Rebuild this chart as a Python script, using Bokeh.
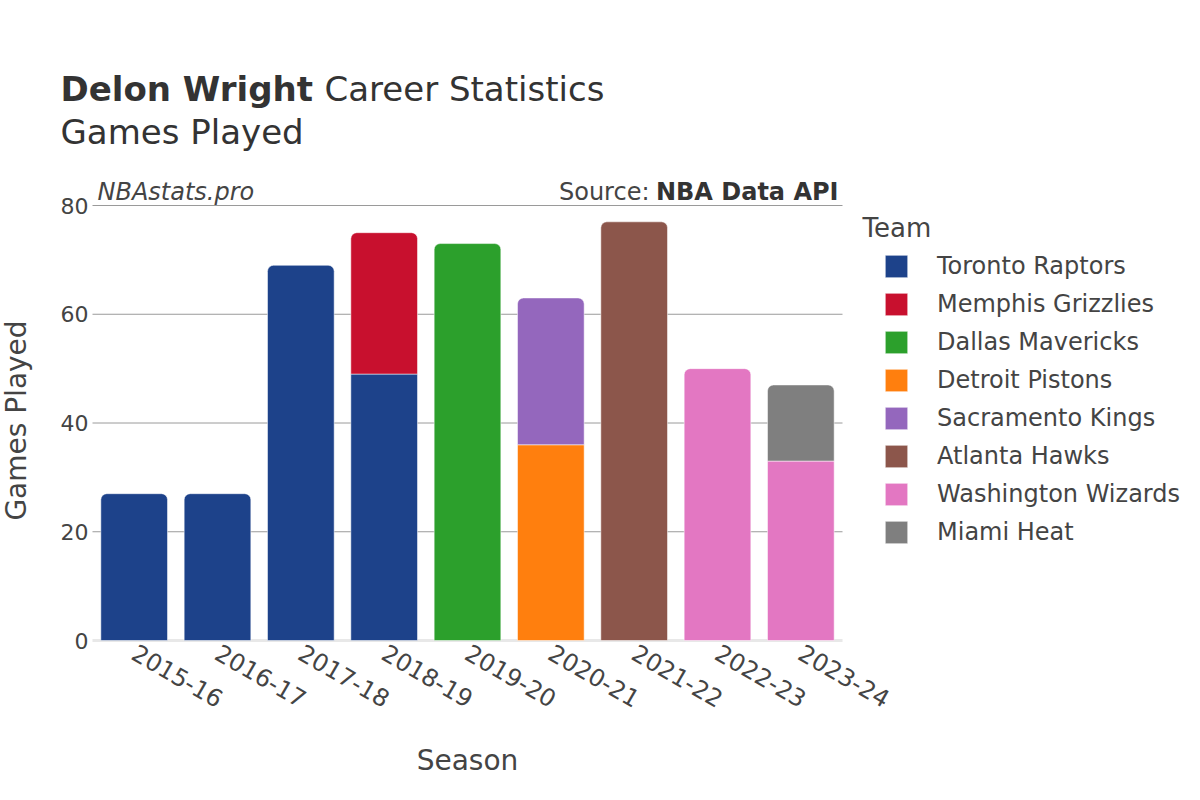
import math
from bokeh.plotting import figure
from bokeh.models import (ColumnDataSource, Range1d, Label, Legend, LegendItem, FixedTicker)
from bokeh.embed import file_html
from bokeh.resources import INLINE

# ---------------- data ----------------
seasons = ["2015-16", "2016-17", "2017-18", "2018-19", "2019-20",
           "2020-21", "2021-22", "2022-23", "2023-24"]
teams = ["Toronto Raptors", "Memphis Grizzlies", "Dallas Mavericks", "Detroit Pistons",
         "Sacramento Kings", "Atlanta Hawks", "Washington Wizards", "Miami Heat"]
team_colors = ["#1d428a", "#c8102e", "#2ca02c", "#ff7f0e",
               "#9467bd", "#8c564b", "#e377c2", "#7f7f7f"]
toronto = [27, 27, 69, 49, 0, 0, 0, 0, 0]
memphis = [0, 0, 0, 26, 0, 0, 0, 0, 0]
dallas = [0, 0, 0, 0, 73, 0, 0, 0, 0]
detroit = [0, 0, 0, 0, 0, 36, 0, 0, 0]
sacramento = [0, 0, 0, 0, 0, 27, 0, 0, 0]
atlanta = [0, 0, 0, 0, 0, 0, 77, 0, 0]
washington = [0, 0, 0, 0, 0, 0, 0, 50, 33]
miami = [0, 0, 0, 0, 0, 0, 0, 0, 14]
games = [toronto, memphis, dallas, detroit, sacramento, atlanta, washington, miami]
y_ticks = [0, 20, 40, 60, 80]

FONT = "DejaVu Sans"
TXT = "#444444"
DARK = "#333333"

# ---------------- geometry ----------------
W, H = 1184, 784
BAR_L, BAR_R = 92, 842   # horizontal pixel span of the category band
ZERO_Y = 640             # pixel row of y = 0
PX_PER_UNIT = 5.4375     # pixels per game
n = len(seasons)
px_per_cat = (BAR_R - BAR_L) / n
x_start = -0.5 - BAR_L / px_per_cat
x_end = x_start + W / px_per_cat
y_start = -(H - ZERO_Y) / PX_PER_UNIT
y_end = ZERO_Y / PX_PER_UNIT

# the frame covers the whole canvas; axes are drawn at fixed locations inside it
p = figure(x_range=Range1d(x_start, x_end), y_range=Range1d(y_start, y_end),
           width=W, height=H, output_backend="svg", toolbar_location=None,
           min_border=0, title=None)
p.outline_line_color = None
p.xgrid.grid_line_color = None
p.ygrid.grid_line_color = None

p.yaxis.ticker = FixedTicker(ticks=y_ticks)
p.yaxis.fixed_location = -0.5 - 4 / px_per_cat
p.yaxis.axis_line_color = None
p.yaxis.major_tick_line_color = None
p.yaxis.minor_tick_line_color = None
p.yaxis.major_tick_out = 0
p.yaxis.major_tick_in = 0
p.yaxis.minor_tick_out = 0
p.yaxis.major_label_text_font = FONT
p.yaxis.major_label_text_font_size = "22px"
p.yaxis.major_label_text_color = TXT
p.yaxis.major_label_standoff = 0

p.xaxis.ticker = FixedTicker(ticks=list(range(n)))
p.xaxis.fixed_location = 0
p.xaxis.major_label_overrides = {i: s for i, s in enumerate(seasons)}
p.xaxis.axis_line_color = None
p.xaxis.major_tick_line_color = None
p.xaxis.minor_tick_line_color = None
p.xaxis.major_tick_out = 0
p.xaxis.major_tick_in = 0
p.xaxis.minor_tick_out = 0
p.xaxis.major_label_text_font = FONT
p.xaxis.major_label_text_font_size = "24px"
p.xaxis.major_label_text_color = TXT
p.xaxis.major_label_orientation = -math.pi / 6
p.xaxis.major_label_standoff = 10

# grid lines limited to the category band, and the zero line
x_lo, x_hi = -0.5, n - 0.5
p.segment(x0=[x_lo] * (len(y_ticks) - 1), x1=[x_hi] * (len(y_ticks) - 1),
          y0=y_ticks[1:], y1=y_ticks[1:], line_color="#9a9a9a", line_width=1)
p.segment(x0=[x_lo], x1=[x_hi], y0=[y_ticks[0]], y1=[y_ticks[0]],
          line_color="#e8e8e8", line_width=3)

# stacked bars
totals = [sum(g[i] for g in games) for i in range(n)]
acc = [0] * n
items = []
for team, color, vals in zip(teams, team_colors, games):
    rnd = dict(x=[], bottom=[], top=[])
    flat = dict(x=[], bottom=[], top=[])
    for i, v in enumerate(vals):
        if v <= 0:
            continue
        b = acc[i]
        t = b + v
        acc[i] = t
        d = rnd if t == totals[i] else flat
        d["x"].append(i)
        d["bottom"].append(b)
        d["top"].append(t)
    r_round = p.vbar(x="x", bottom="bottom", top="top", width=0.8,
                     source=ColumnDataSource(rnd), fill_color=color,
                     line_color="white", line_alpha=0.5, line_width=1,
                     border_radius=(6, 6, 0, 0))
    r_flat = p.vbar(x="x", bottom="bottom", top="top", width=0.8,
                    source=ColumnDataSource(flat), fill_color=color,
                    line_color="white", line_alpha=0.5, line_width=1)
    rs = [r for r, d in ((r_round, rnd), (r_flat, flat)) if d["x"]][:1]
    items.append(LegendItem(label=team, renderers=rs))

legend = Legend(items=items, location=(882, H - 546), glyph_width=28, glyph_height=28,
                label_height=28, spacing=10, label_standoff=27, padding=0, margin=0,
                border_line_alpha=0, background_fill_alpha=0,
                label_text_font=FONT, label_text_font_size="24px",
                label_text_color=TXT)
p.add_layout(legend, "center")

def add_label(text, px, py, size, color=TXT, style="normal", align="left", angle=0):
    """px / py (vertical middle of the text) are picture pixels."""
    p.add_layout(Label(text=text, x=px, y=H - py,
                       x_units="screen", y_units="screen",
                       text_font=FONT, text_font_size=size, text_color=color,
                       text_font_style=style, text_align=align,
                       text_baseline="middle", angle=angle))

add_label("Delon Wright", 60, 88, "34px", DARK, "bold")
add_label("Career Statistics", 324, 88, "34px", DARK)
add_label("Games Played", 60, 131, "34px", DARK)
add_label("NBAstats.pro", 97, 191, "24px", TXT, "italic")
add_label("NBA Data API", 838, 191, "24px", DARK, "bold", align="right")
add_label("Source:", 649, 191, "24px", TXT, align="right")
add_label("Team", 862, 227, "26px", TXT)
add_label("Games Played", 16, 420, "28px", TXT, align="center", angle=math.pi / 2)
add_label("Season", 467, 760, "28px", TXT, align="center")

open("out.html", "w").write(file_html(p, INLINE))
